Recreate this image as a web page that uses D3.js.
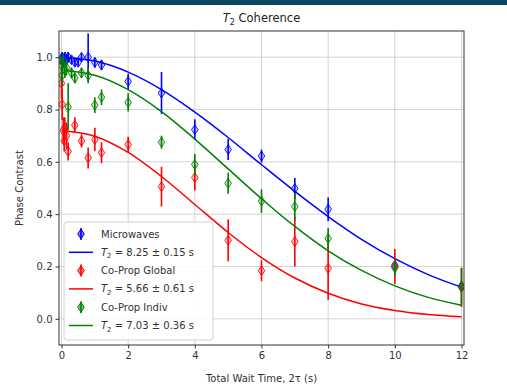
<!DOCTYPE html>
<html>
<head>
<meta charset="utf-8">
<script src="https://cdn.jsdelivr.net/npm/d3@7"></script>
<style>
  html, body { margin: 0; padding: 0; background: #fff; }
  svg { display: block; font-family: "DejaVu Sans", sans-serif; }
</style>
</head>
<body>
<svg id="chart" width="507" height="388"></svg>
<script>
// ---------- data ----------
const xTicks = [0, 2, 4, 6, 8, 10, 12];
const yTicks = [0.0, 0.2, 0.4, 0.6, 0.8, 1.0];

const mwT   = [0.0, 0.02, 0.05, 0.1, 0.15, 0.2, 0.3, 0.4, 0.5, 0.6, 0.8, 1.0, 1.2, 2, 3, 4, 5, 6, 7, 8, 10, 12];
const mwV   = [0.99, 1.0, 0.98, 1.0, 0.99, 1.0, 0.99, 0.98, 0.98, 1.0, 1.0, 0.98, 0.97, 0.907, 0.863, 0.723, 0.647, 0.622, 0.498, 0.419, 0.205, 0.125];
const mwE   = [0.02, 0.02, 0.02, 0.02, 0.02, 0.02, 0.015, 0.015, 0.015, 0.015, 0.09, 0.02, 0.02, 0.03, 0.08, 0.04, 0.04, 0.025, 0.04, 0.045, 0.02, 0.02];

const glT   = [0.0, 0.02, 0.05, 0.08, 0.1, 0.15, 0.2, 0.4, 0.6, 0.8, 1.0, 1.2, 2, 3, 4, 5, 6, 7, 8, 10, 12];
const glV   = [0.90, 0.82, 0.72, 0.68, 0.73, 0.70, 0.64, 0.74, 0.68, 0.615, 0.685, 0.635, 0.666, 0.505, 0.54, 0.30, 0.184, 0.295, 0.193, 0.20, 0.12];
const glE   = [0.06, 0.06, 0.05, 0.04, 0.04, 0.05, 0.035, 0.03, 0.025, 0.04, 0.045, 0.04, 0.03, 0.076, 0.05, 0.08, 0.04, 0.095, 0.12, 0.067, 0.075];

const inT   = [0.0, 0.02, 0.05, 0.1, 0.15, 0.2, 0.3, 0.4, 0.6, 0.8, 1.0, 1.2, 2, 3, 4, 5, 6, 7, 8, 10, 12];
const inV   = [0.97, 0.93, 0.99, 0.95, 0.96, 0.81, 0.94, 0.92, 0.94, 0.93, 0.817, 0.847, 0.827, 0.675, 0.59, 0.518, 0.45, 0.429, 0.307, 0.195, 0.125];
const inE   = [0.03, 0.04, 0.02, 0.03, 0.03, 0.09, 0.02, 0.02, 0.02, 0.03, 0.03, 0.03, 0.035, 0.025, 0.04, 0.04, 0.045, 0.05, 0.04, 0.03, 0.07];

// fit curves, read at whole seconds
const fitT  = [0, 1, 2, 3, 4, 5, 6, 7, 8, 9, 10, 11, 12];
const mwFit = [1.0, 0.985, 0.943, 0.876, 0.790, 0.693, 0.589, 0.487, 0.391, 0.304, 0.230, 0.169, 0.121];
const glFit = [0.72, 0.698, 0.636, 0.544, 0.437, 0.330, 0.234, 0.156, 0.098, 0.057, 0.032, 0.0165, 0.008];
const inFit = [0.95, 0.931, 0.876, 0.792, 0.687, 0.573, 0.459, 0.353, 0.260, 0.185, 0.126, 0.082, 0.052];

const seriesNames = ["Microwaves", "Co-Prop Global", "Co-Prop Indiv"];
const fitLabels = [["8.25", "0.15"], ["5.66", "0.61"], ["7.03", "0.36"]];
const colors = ["#0000ff", "#ff0000", "#008000"];

// ---------- layout ----------
const svg = d3.select("#chart");
const W = 507, H = 388;
const plot = { left: 59, right: 464, top: 31, bottom: 345 };

svg.append("rect").attr("x", 0).attr("y", 0).attr("width", W).attr("height", 5).attr("fill", "#0c4660");

const x = d3.scaleLinear().domain([-0.075, 12.075]).range([plot.left, plot.right]);
const y = d3.scaleLinear().domain([-0.1, 1.1]).range([plot.bottom, plot.top]);

svg.append("defs").append("clipPath").attr("id", "clip")
  .append("rect").attr("x", plot.left).attr("y", plot.top)
  .attr("width", plot.right - plot.left).attr("height", plot.bottom - plot.top);

// grid
const grid = svg.append("g");
grid.selectAll(".gx").data(xTicks).enter().append("line")
  .attr("x1", d => x(d)).attr("x2", d => x(d)).attr("y1", plot.top).attr("y2", plot.bottom)
  .attr("stroke", "#d4d4d4").attr("stroke-width", 1);
grid.selectAll(".gy").data(yTicks).enter().append("line")
  .attr("y1", d => y(d)).attr("y2", d => y(d)).attr("x1", plot.left).attr("x2", plot.right)
  .attr("stroke", "#d4d4d4").attr("stroke-width", 1);

// axes
const xAxis = d3.axisBottom(x).tickValues(xTicks).tickFormat(d3.format("d")).tickSizeOuter(0).tickSize(3.5).tickPadding(3);
const yAxis = d3.axisLeft(y).tickValues(yTicks).tickFormat(d3.format(".1f")).tickSizeOuter(0).tickSize(3.5).tickPadding(3);
const gx = svg.append("g").attr("transform", `translate(0,${plot.bottom})`).call(xAxis);
const gy = svg.append("g").attr("transform", `translate(${plot.left},0)`).call(yAxis);
[gx, gy].forEach(g => {
  g.select(".domain").remove();
  g.selectAll("line").attr("stroke", "#333");
  g.selectAll("text").attr("fill", "#333").style("font-size", "10px").style("font-family", "DejaVu Sans, sans-serif");
});

// data layer
const layer = svg.append("g").attr("clip-path", "url(#clip)");
const diamond = "M0,-5L3.3,0L0,5L-3.3,0Z";
const line = d3.line().x(d => x(d[0])).y(d => y(d[1])).curve(d3.curveMonotoneX);

const sets = [
  { t: mwT, v: mwV, e: mwE, fit: mwFit },
  { t: glT, v: glV, e: glE, fit: glFit },
  { t: inT, v: inV, e: inE, fit: inFit }
];

sets.forEach((s, i) => {
  const pts = s.t.map((t, k) => ({ t, v: s.v[k], e: s.e[k] }));
  const g = layer.append("g");
  g.selectAll(".eb").data(pts).enter().append("line")
    .attr("x1", d => x(d.t)).attr("x2", d => x(d.t))
    .attr("y1", d => y(d.v - d.e)).attr("y2", d => y(d.v + d.e))
    .attr("stroke", colors[i]).attr("stroke-width", 1.6);
  g.selectAll(".mk").data(pts).enter().append("path")
    .attr("d", diamond)
    .attr("transform", d => `translate(${x(d.t)},${y(d.v)})`)
    .attr("fill", colors[i]).attr("fill-opacity", 0.22)
    .attr("stroke", colors[i]).attr("stroke-width", 1).attr("stroke-opacity", 0.85);
  layer.append("path")
    .datum(fitT.map((t, k) => [t, s.fit[k]]))
    .attr("d", line).attr("fill", "none")
    .attr("stroke", colors[i]).attr("stroke-width", 1.5);
});

// frame
svg.append("rect").attr("x", plot.left).attr("y", plot.top)
  .attr("width", plot.right - plot.left).attr("height", plot.bottom - plot.top)
  .attr("fill", "none").attr("stroke", "#333").attr("stroke-width", 1);

// title
const title = svg.append("text").attr("x", (plot.left + plot.right) / 2).attr("y", 22)
  .attr("text-anchor", "middle").style("font-size", "11.5px").attr("fill", "#222");
title.append("tspan").text("T").style("font-style", "italic");
title.append("tspan").text("2").attr("dy", 2.5).style("font-size", "8px");
title.append("tspan").text(" Coherence").attr("dy", -2.5);

// axis labels
svg.append("text").attr("x", (plot.left + plot.right) / 2).attr("y", 382)
  .attr("text-anchor", "middle").style("font-size", "10px").attr("fill", "#333")
  .text("Total Wait Time, 2\u03C4 (s)");
svg.append("text").attr("transform", `translate(23,${(plot.top + plot.bottom) / 2}) rotate(-90)`)
  .attr("text-anchor", "middle").style("font-size", "10px").attr("fill", "#333")
  .text("Phase Contrast");

// legend
const lg = svg.append("g");
lg.append("rect").attr("x", 64).attr("y", 222).attr("width", 149).attr("height", 118)
  .attr("rx", 3).attr("fill", "#fff").attr("fill-opacity", 0.85)
  .attr("stroke", "#d0d0d0").attr("stroke-width", 1);
const rowY0 = 234, rowStep = 18.3;
seriesNames.forEach((name, i) => {
  const ym = rowY0 + rowStep * (2 * i);
  const yl = rowY0 + rowStep * (2 * i + 1);
  lg.append("line").attr("x1", 81).attr("x2", 81).attr("y1", ym - 6).attr("y2", ym + 6)
    .attr("stroke", colors[i]).attr("stroke-width", 1.6);
  lg.append("path").attr("d", diamond).attr("transform", `translate(81,${ym})`)
    .attr("fill", colors[i]).attr("fill-opacity", 0.5).attr("stroke", colors[i]).attr("stroke-width", 1);
  lg.append("text").attr("x", 101).attr("y", ym + 3.5).style("font-size", "10px").attr("fill", "#333").text(name);
  lg.append("line").attr("x1", 69).attr("x2", 93).attr("y1", yl).attr("y2", yl)
    .attr("stroke", colors[i]).attr("stroke-width", 1.5);
  const t = lg.append("text").attr("x", 101).attr("y", yl + 3.5).style("font-size", "10px").attr("fill", "#333");
  t.append("tspan").text("T").style("font-style", "italic");
  t.append("tspan").text("2").attr("dy", 2.5).style("font-size", "7px");
  t.append("tspan").text(` = ${fitLabels[i][0]} \u00B1 ${fitLabels[i][1]} s`).attr("dy", -2.5);
});
</script>
</body>
</html>
